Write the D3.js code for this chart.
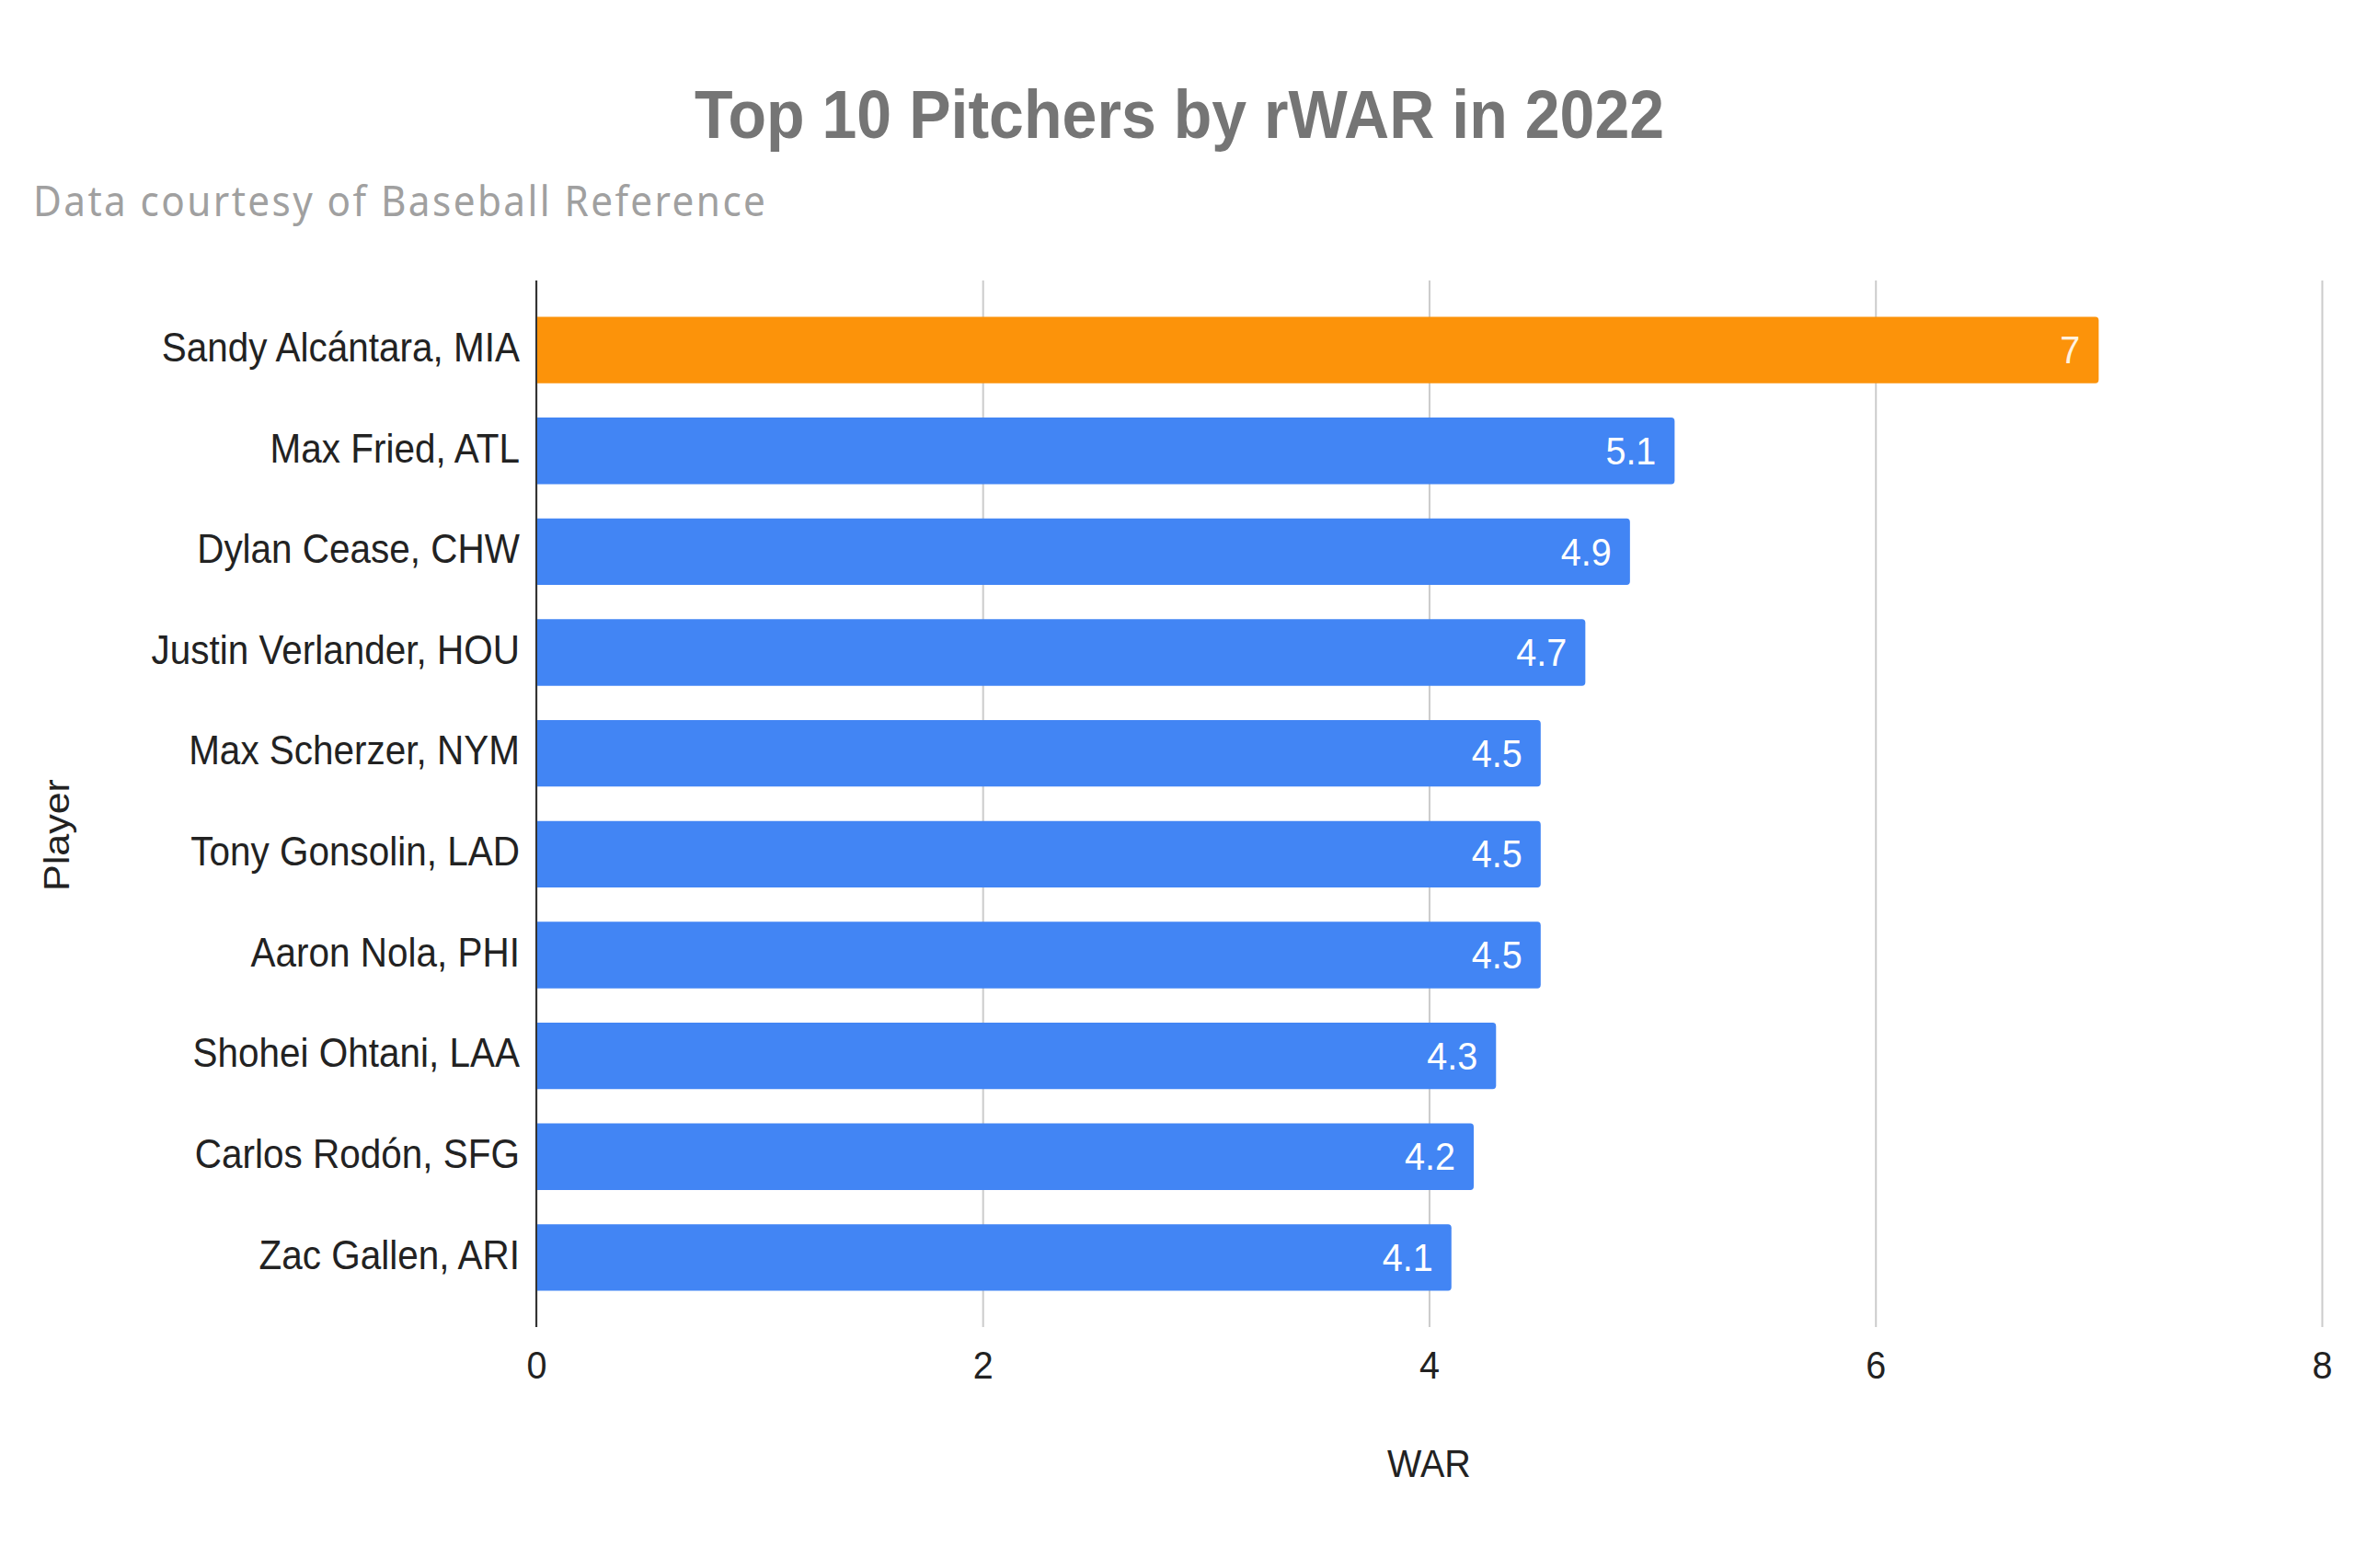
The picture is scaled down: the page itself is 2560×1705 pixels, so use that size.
<!DOCTYPE html>
<html>
<head>
<meta charset="utf-8">
<script src="https://cdn.jsdelivr.net/npm/d3@7"></script>
<style>
  html, body { margin: 0; padding: 0; background: #fff; }
  svg { display: block; }
</style>
</head>
<body>
<div id="chart"></div>
<script>
const players = [
  "Sandy Alcántara, MIA",
  "Max Fried, ATL",
  "Dylan Cease, CHW",
  "Justin Verlander, HOU",
  "Max Scherzer, NYM",
  "Tony Gonsolin, LAD",
  "Aaron Nola, PHI",
  "Shohei Ohtani, LAA",
  "Carlos Rodón, SFG",
  "Zac Gallen, ARI"
];
const war = [7, 5.1, 4.9, 4.7, 4.5, 4.5, 4.5, 4.3, 4.2, 4.1];
const barColors = ["#fc930a", "#4285f4", "#4285f4", "#4285f4", "#4285f4", "#4285f4", "#4285f4", "#4285f4", "#4285f4", "#4285f4"];
const xTicks = [0, 2, 4, 6, 8];
const titleText = "Top 10 Pitchers by rWAR in 2022";
const subtitleText = "Data courtesy of Baseball Reference";
const xTitle = "WAR";
const yTitle = "Player";

const W = 2560, H = 1705;
const SX = 0.92;               // horizontal compression of the reference rendering
const VW = W / SX;
const X = v => v / SX;         // convert screen x to view x

const svg = d3.select("#chart").append("svg")
  .attr("width", W).attr("height", H)
  .attr("viewBox", `0 0 ${VW} ${H}`)
  .attr("preserveAspectRatio", "none");

const FONT = "'Liberation Sans', Arial, sans-serif";

const plotTop = 305, plotBottom = 1443;
const x = d3.scaleLinear().domain([0, 8]).range([X(583), X(2524)]);
const y = d3.scaleBand().domain(players).range([plotTop, plotBottom])
  .paddingInner(0.34).paddingOuter(0.36);

// title & subtitle
svg.append("text")
  .attr("x", X(1282)).attr("y", 150)
  .attr("text-anchor", "middle")
  .attr("font-family", FONT).attr("font-weight", "bold")
  .attr("font-size", 74).attr("fill", "#757575")
  .text(titleText);

svg.append("text")
  .attr("x", X(36)).attr("y", 235)
  .attr("font-family", "'Noto Sans', Roboto, sans-serif")
  .attr("font-size", 46).attr("letter-spacing", 2.6).attr("fill", "#a0a0a0")
  .text(subtitleText);

// gridlines via axis
const xAxis = d3.axisBottom(x).tickValues(xTicks).tickFormat(d3.format("d"))
  .tickSize(-(plotBottom - plotTop)).tickPadding(0);
const gx = svg.append("g").attr("transform", `translate(0,${plotBottom})`).call(xAxis);
gx.select(".domain").remove();
gx.selectAll(".tick line").attr("stroke", "#cccccc").attr("stroke-width", 2.2);
gx.selectAll(".tick text")
  .attr("y", 56).attr("dy", 0)
  .attr("font-family", FONT).attr("font-size", 43).attr("fill", "#222");

// bars
const rx = 4;
svg.append("g").selectAll("path.bar").data(players).join("path")
  .attr("class", "bar")
  .attr("fill", (d, i) => barColors[i])
  .attr("d", (d, i) => {
    const x0 = x(0), x1 = x(war[i]);
    const y0 = y(d), h = y.bandwidth();
    const r = Math.min(rx, h / 2);
    return `M${x0},${y0} H${x1 - r} Q${x1},${y0} ${x1},${y0 + r} V${y0 + h - r} Q${x1},${y0 + h} ${x1 - r},${y0 + h} H${x0} Z`;
  });

// value labels
svg.append("g").selectAll("text.val").data(players).join("text")
  .attr("class", "val")
  .attr("x", (d, i) => x(war[i]) - X(20))
  .attr("y", d => y(d) + y.bandwidth() / 2)
  .attr("dy", "0.34em")
  .attr("text-anchor", "end")
  .attr("font-family", FONT).attr("font-size", 43)
  .attr("fill", (d, i) => i === 0 ? "#fff3e0" : "#ffffff")
  .text((d, i) => war[i]);

// y axis line
svg.append("line")
  .attr("x1", x(0)).attr("x2", x(0))
  .attr("y1", plotTop).attr("y2", plotBottom)
  .attr("stroke", "#333").attr("stroke-width", 2.2);

// category labels
svg.append("g").selectAll("text.cat").data(players).join("text")
  .attr("class", "cat")
  .attr("x", X(565))
  .attr("y", d => y(d) + y.bandwidth() / 2)
  .attr("dy", "0.28em")
  .attr("text-anchor", "end")
  .attr("font-family", FONT).attr("font-size", 44).attr("fill", "#222")
  .text(d => d);

// axis titles
svg.append("text")
  .attr("x", (x(0) + x(8)) / 2).attr("y", 1606)
  .attr("text-anchor", "middle")
  .attr("font-family", FONT).attr("font-size", 43).attr("fill", "#222")
  .text(xTitle);

svg.append("text")
  .attr("transform", `translate(${X(75)},908) rotate(-90)`)
  .attr("text-anchor", "middle")
  .attr("font-family", FONT).attr("font-size", 43).attr("fill", "#222")
  .text(yTitle);
</script>
</body>
</html>
